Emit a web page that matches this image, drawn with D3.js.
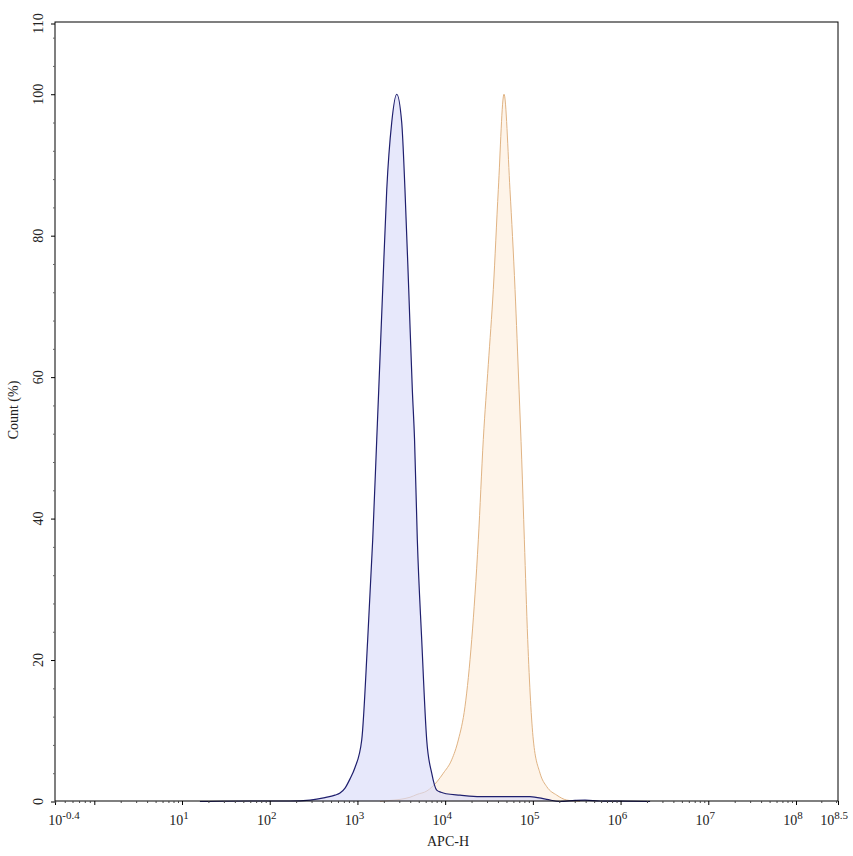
<!DOCTYPE html>
<html>
<head>
<meta charset="utf-8">
<script src="https://cdn.jsdelivr.net/npm/d3@7"></script>
<style>
  body { margin: 0; background: #fff; }
  text { font-family: "Liberation Serif", "Times New Roman", serif; fill: #222; }
</style>
</head>
<body>
<svg id="chart" width="853" height="856"></svg>
<script>
// APC-H values (linear units) and count (%)
const blueApc = [16, 59.6, 170, 288, 427, 555, 633, 722, 823, 938, 1119, 1309, 1493, 1660, 1749, 1941, 2158, 2459, 2805,
    3198, 3483, 3844, 4225, 4477, 4817, 5403, 6163, 7027, 8012, 8974, 10230, 14760, 24950, 92700, 143900, 204100,
    302700, 393600, 583400, 985500, 2170000];
const bluePct = [0, 0.07, 0.07, 0.2, 0.55, 0.9, 1.2, 1.9, 3.2, 4.8, 8.7, 22.9, 37.0, 51.2, 58.2, 72.4, 86.5, 96.0, 100,
    96.0, 86.5, 72.4, 58.2, 51.2, 37.0, 22.9, 8.7, 4.0, 1.6, 1.3, 1.1, 0.9, 0.7, 0.7, 0.3, 0,
    0.15, 0.2, 0.07, 0.05, 0];

const orangeApc = [1808, 2351, 3055, 3975, 4779, 6209, 8075, 9528, 11880, 14130, 16830, 20090, 23890, 27230, 31050,
    35400, 40370, 46890, 54840, 62640, 69560, 74650, 79980, 87360, 101200, 120700, 143900, 187100, 243200, 345100];
const orangePct = [0, 0.15, 0.3, 0.6, 1.0, 1.5, 2.8, 4.0, 5.9, 8.7, 13.4, 22.9, 37.0, 51.2, 61.8,
    72.4, 86.5, 100, 86.5, 72.4, 58.2, 48.3, 37.0, 22.9, 8.7, 4.0, 2.1, 0.9, 0.2, 0];

// axis ticks (x in decades)
const xMajor = [-0.4, 0, 1, 2, 3, 4, 5, 6, 7, 8, 8.5];
const xLabels = {"-0.4": "-0.4", "1": "1", "2": "2", "3": "3", "4": "4", "5": "5", "6": "6", "7": "7", "8": "8", "8.5": "8.5"};
const yMajor = [0, 20, 40, 60, 80, 100, 110];

const svg = d3.select("#chart");
const plotLeft = 55, plotRight = 838, plotTop = 22, plotBottom = 801;

// the instrument's axis puts 10^0..10^8 evenly, ends slightly squeezed
const x = d3.scaleLinear().domain([-0.4, 0, 8, 8.5]).range([plotLeft, 94.3, 796, plotRight]);
const y = d3.scaleLinear().domain([0, 110]).range([801.5, 23.5]);

const xMinor = [];
for (let d = -1; d <= 8; d++) {
    for (let m = 2; m <= 9; m++) {
        const e = d + Math.log10(m);
        if (e > -0.4 && e < 8.5) xMinor.push(e);
    }
}
const yMinor = d3.range(0, 111, 4).filter(v => !yMajor.includes(v));

// histograms
function drawHist(apc, pct, fill, fillOpacity, stroke, width) {
    const pts = apc.map((v, i) => ({e: Math.log10(v), p: pct[i]}));
    const area = d3.area()
        .x(d => x(d.e))
        .y0(y(0))
        .y1(d => y(d.p))
        .curve(d3.curveMonotoneX);
    const line = d3.line()
        .x(d => x(d.e))
        .y(d => y(d.p))
        .curve(d3.curveMonotoneX);
    svg.append("path").datum(pts)
        .attr("d", area)
        .attr("fill", fill)
        .attr("fill-opacity", fillOpacity);
    svg.append("path").datum(pts)
        .attr("d", line)
        .attr("fill", "none")
        .attr("stroke", stroke)
        .attr("stroke-width", width);
}

drawHist(orangeApc, orangePct, "#fef4e9", 1, "#e0b383", 1);
drawHist(blueApc, bluePct, "#dadcf9", 0.65, "#1f1f6e", 1.2);

// frame
svg.append("rect")
    .attr("x", plotLeft).attr("y", plotTop)
    .attr("width", plotRight - plotLeft).attr("height", plotBottom - plotTop)
    .attr("fill", "none").attr("stroke", "#000").attr("stroke-width", 1);

// x axis
const xAxis = svg.append("g")
    .attr("transform", `translate(0,${plotBottom})`)
    .call(d3.axisBottom(x).tickValues(xMajor).tickSize(4).tickFormat(""));
xAxis.select(".domain").remove();
xAxis.selectAll(".tick line").attr("stroke", "#000");

svg.append("g")
    .attr("transform", `translate(0,${plotBottom})`)
    .call(d3.axisBottom(x).tickValues(xMinor).tickSize(2).tickFormat(""))
    .call(g => g.select(".domain").remove())
    .selectAll(".tick line").attr("stroke", "#444");

xMajor.filter(e => xLabels[String(e)] !== undefined).forEach(e => {
    const label = xLabels[String(e)];
    let dx = -3;
    if (e === -0.4) dx = 9;
    if (e === 8.5) dx = -4;
    const t = svg.append("text")
        .attr("x", x(e) + dx)
        .attr("y", 825)
        .attr("text-anchor", "middle")
        .attr("font-size", 14);
    t.append("tspan").text("10");
    t.append("tspan").attr("dy", -6).attr("font-size", 11).text(label);
});

// y axis
const yAxis = svg.append("g")
    .attr("transform", `translate(${plotLeft},0)`)
    .call(d3.axisLeft(y).tickValues(yMajor).tickSize(4).tickFormat(""));
yAxis.select(".domain").remove();
yAxis.selectAll(".tick line").attr("stroke", "#000");

svg.append("g")
    .attr("transform", `translate(${plotLeft},0)`)
    .call(d3.axisLeft(y).tickValues(yMinor).tickSize(2).tickFormat(""))
    .call(g => g.select(".domain").remove())
    .selectAll(".tick line").attr("stroke", "#666");

yMajor.forEach(v => {
    svg.append("text")
        .attr("transform", `translate(43,${y(v)}) rotate(-90)`)
        .attr("text-anchor", "middle")
        .attr("font-size", 14)
        .text(v);
});

// axis titles
svg.append("text")
    .attr("x", 448).attr("y", 846)
    .attr("text-anchor", "middle")
    .attr("font-size", 14)
    .text("APC-H");

svg.append("text")
    .attr("transform", "translate(18,410) rotate(-90)")
    .attr("text-anchor", "middle")
    .attr("font-size", 14)
    .text("Count (%)");
</script>
</body>
</html>
